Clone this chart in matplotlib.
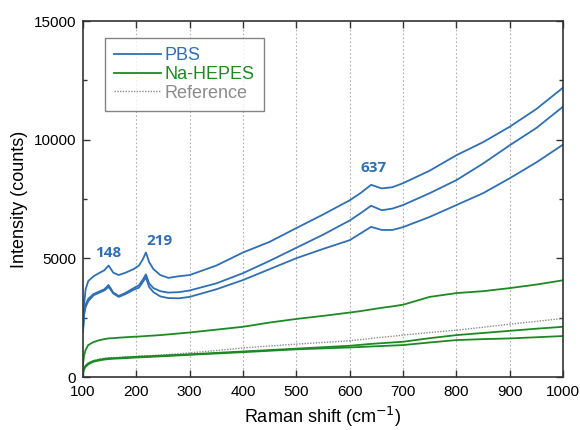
import matplotlib
matplotlib.use("Agg")
import matplotlib.pyplot as plt
from matplotlib.lines import Line2D
from matplotlib.ticker import MultipleLocator

plt.rcParams['font.family'] = ['Liberation Sans', 'DejaVu Sans']

# Raman shift positions (cm-1) shared by all spectra
shift = [100, 102, 105, 110, 120, 130, 140, 148, 157, 167, 180, 195, 205, 212,
         218, 224, 232, 245, 260, 280, 300, 350, 400, 450, 500, 550, 600, 620,
         640, 660, 680, 700, 750, 800, 850, 900, 950, 1000]

# PBS spectra (counts)
pbs_1 = [1900, 3000, 3700, 4050, 4250, 4380, 4500, 4700, 4400, 4300, 4400, 4550,
         4700, 4950, 5250, 4850, 4550, 4300, 4180, 4250, 4300, 4700, 5250, 5700,
         6280, 6850, 7450, 7750, 8100, 7950, 8000, 8170, 8700, 9350, 9900, 10550,
         11300, 12200]
pbs_2 = [1900, 2700, 3050, 3300, 3500, 3600, 3700, 3880, 3560, 3420, 3550, 3750,
         3870, 4100, 4330, 3950, 3750, 3620, 3560, 3580, 3650, 3950, 4380, 4900,
         5450, 6000, 6600, 6900, 7220, 7030, 7100, 7250, 7750, 8300, 9000, 9770,
         10500, 11400]
pbs_3 = [1900, 2600, 2950, 3200, 3450, 3550, 3650, 3800, 3520, 3380, 3500, 3680,
         3770, 4000, 4200, 3800, 3580, 3400, 3330, 3320, 3380, 3700, 4090, 4550,
         5010, 5400, 5770, 6050, 6330, 6200, 6200, 6320, 6750, 7250, 7750, 8380,
         9050, 9800]

# Na-HEPES spectra
hepes_1 = [500, 900, 1150, 1350, 1480, 1550, 1600, 1630, 1640, 1660, 1680, 1700,
           1710, 1720, 1730, 1740, 1750, 1770, 1800, 1840, 1880, 2000, 2120, 2300,
           2450, 2580, 2720, 2780, 2850, 2920, 2980, 3050, 3380, 3540, 3620, 3750,
           3900, 4080]
hepes_2 = [200, 380, 480, 580, 680, 730, 770, 790, 800, 810, 830, 850, 860, 870,
           875, 880, 890, 900, 920, 940, 960, 1020, 1080, 1140, 1200, 1260, 1320,
           1360, 1400, 1430, 1460, 1490, 1640, 1770, 1860, 1950, 2040, 2120]
hepes_3 = [150, 330, 430, 540, 650, 700, 740, 760, 775, 785, 800, 820, 830, 840,
           845, 850, 860, 875, 890, 915, 940, 995, 1050, 1110, 1170, 1210, 1250,
           1270, 1290, 1310, 1330, 1350, 1460, 1560, 1600, 1630, 1680, 1730]

# Reference spectrum
reference = [250, 400, 500, 600, 700, 750, 790, 810, 820, 830, 850, 870, 885, 895,
             900, 905, 915, 930, 950, 985, 1020, 1120, 1230, 1310, 1390, 1460, 1530,
             1580, 1630, 1680, 1720, 1770, 1880, 1980, 2100, 2230, 2350, 2470]

# peak labels
peak_labels = ['148', '219', '637']
peak_x = [147, 244, 645]
peak_y = [5220, 5740, 8800]

blue = '#2f6fb3'
green = '#1c8a22'
grey = '#8c8c8c'

fig = plt.figure(figsize=(5.8, 4.3), dpi=100)
ax = fig.add_axes([0.143, 0.123, 0.828, 0.828])

for x in range(200, 1000, 100):
    ax.axvline(x, color='#b0b0b0', linestyle=(0, (1.5, 2)), linewidth=0.8, zorder=0)

ax.plot(shift, reference, color=grey, linestyle=(0, (1, 1)), linewidth=1.0)
for s in [hepes_1, hepes_2, hepes_3]:
    ax.plot(shift, s, color=green, linewidth=1.3)
for s in [pbs_1, pbs_2, pbs_3]:
    ax.plot(shift, s, color=blue, linewidth=1.3)

for lab, px, py in zip(peak_labels, peak_x, peak_y):
    ax.text(px, py, lab, color=blue, fontsize=11, fontweight='bold',
            family=['Open Sans', 'DejaVu Sans'], ha='center', va='center')

ax.set_xlim(100, 1000)
ax.set_ylim(0, 15000)
ax.xaxis.set_major_locator(MultipleLocator(100))
ax.yaxis.set_major_locator(MultipleLocator(5000))
ax.yaxis.set_minor_locator(MultipleLocator(2500))
ax.tick_params(which='both', direction='in', top=True, right=True,
               labelsize=11, color='#333333')
ax.tick_params(which='major', length=5, width=1)
ax.tick_params(which='minor', length=3, width=1)
ax.tick_params(axis='x', pad=6)
ax.tick_params(axis='y', pad=5)
for sp in ax.spines.values():
    sp.set_color('#333333')
    sp.set_linewidth(1.2)

ax.set_xlabel('Raman shift (cm$^{-1}$)', fontsize=13)
ax.set_ylabel('Intensity (counts)', fontsize=13)

handles = [Line2D([], [], color=blue, linewidth=1.3),
           Line2D([], [], color=green, linewidth=1.3),
           Line2D([], [], color=grey, linestyle=(0, (1, 1)), linewidth=1.0)]
leg = ax.legend(handles, ['PBS', 'Na-HEPES', 'Reference'], loc='upper left',
                bbox_to_anchor=(0.046, 0.952), borderaxespad=0, fontsize=13,
                fancybox=False, edgecolor='#666666', handlelength=2.6,
                handletextpad=0.2, labelspacing=0.1, borderpad=0.5)
leg.get_frame().set_linewidth(1.0)
for t, c in zip(leg.get_texts(), [blue, green, grey]):
    t.set_color(c)

fig.savefig('out.png', dpi=100)
